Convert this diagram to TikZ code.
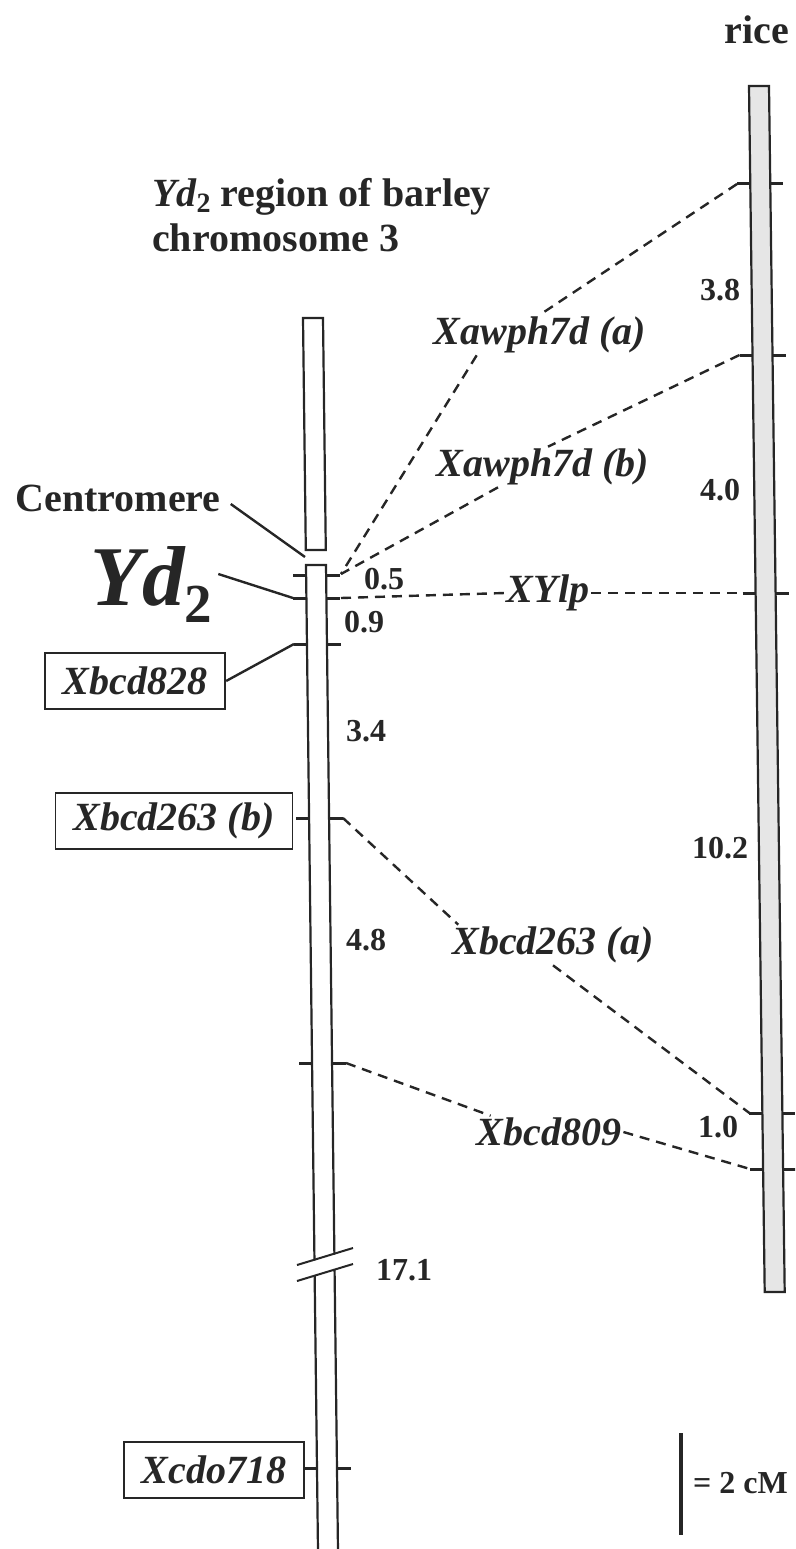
\documentclass[tikz,border=0pt]{standalone}
\usepackage{fontspec}
\setmainfont{Liberation Serif}
\usetikzlibrary{calc,positioning}
\definecolor{mapInk}{HTML}{262626}
\definecolor{riceFill}{HTML}{E6E6E6}

\tikzset{
  lbl/.style={font=\fontsize{40}{44}\selectfont\bfseries\itshape,text=mapInk,inner sep=2pt},
  dist/.style={font=\fontsize{32}{36}\selectfont\bfseries,text=mapInk,inner sep=0pt},
  heading/.style={font=\fontsize{40}{39}\selectfont\bfseries,text=mapInk,inner sep=0pt},
  markbox/.style={lbl,draw=mapInk,line width=1.8pt,minimum height=56pt,inner xsep=18pt,fill=white},
  tick/.style={mapInk,line width=3pt},
  link/.style={mapInk,line width=2.4pt,dash pattern=on 10pt off 7pt},
  lead/.style={mapInk,line width=2.4pt},
  chrom/.style={draw=mapInk,line width=2.2pt}
}

\begin{document}
\begin{tikzpicture}[x=1pt,y=-1pt]
\useasboundingbox (0,0) rectangle (795,1549);
\clip (0,0) rectangle (795,1549);

% headings
\node[heading] (rice) at (757,30) {rice};
\node[heading,anchor=north west,align=left] (title) at (152,178)
  {\itshape Yd\raisebox{-0.15em}{\upshape\fontsize{28}{28}\selectfont 2} \upshape region of barley\\[6pt]chromosome 3};

% barley chromosome 3 (two pieces, centromere gap)
\draw[chrom,fill=white] (303,318) -- (323,318) -- (325.8,550) -- (305.8,550) -- cycle;
\draw[chrom,fill=white] (306,565) -- (326,565) -- (338.1,1560) -- (318.1,1560) -- cycle;
% break
\fill[white] (300,1265) -- (350,1250) -- (350,1265) -- (300,1280) -- cycle;
\draw[mapInk,line width=2pt] (297,1265) -- (353,1248) (297,1281) -- (353,1264);

% rice chromosome
\draw[chrom,fill=riceFill] (749,86) -- (769,86) -- (784.7,1292) -- (764.7,1292) -- cycle;

% marker ticks
\foreach \y/\xl in {575/306.1,598/306.4,644/307.0,818/309.1,1063/312.1,1468/317.0}
  \draw[tick] (\xl-13,\y) -- (\xl,\y) (\xl+20,\y) -- (\xl+34,\y);
\foreach \y/\xl in {184/750.3,355/752.5,593/755.6,1113/762.4,1169/763.1}
  \draw[tick] (\xl-13,\y) -- (\xl,\y) (\xl+20,\y) -- (\xl+33,\y);

\coordinate (b05) at (341,574);
\coordinate (byd) at (341,598);
\coordinate (b263) at (343,818);
\coordinate (b809) at (346,1063);
\coordinate (r1) at (737,184);
\coordinate (r2) at (739.5,355);
\coordinate (r3) at (742.6,593);
\coordinate (r4) at (749.4,1113);
\coordinate (r5) at (750.1,1169);
\coordinate (lcen) at (305,557);
\coordinate (lyd) at (293,598);
\coordinate (l828) at (294,644);

% shared markers
\node[lbl] (xawa) at (540,335) {Xawph7d (a)};
\node[lbl] (xawb) at (543,467) {Xawph7d (b)};
\node[lbl] (xylp) at (548,593) {XYlp};
\node[lbl] (x263a) at (553,945) {Xbcd263 (a)};
\node[lbl] (x809) at (549,1132) {Xbcd809};

\draw[link] (r1) -- (xawa.north);
\draw[link] ([xshift=45pt]xawa.south west) -- (b05);
\draw[link] (r2) -- ([xshift=5pt]xawb.north);
\draw[link] ([xshift=-45pt]xawb.south) -- (b05);
\draw[link] (byd) -- (xylp.west);
\draw[link] (xylp.east) -- (r3);
\draw[link] (b263) -- ([xshift=8pt]x263a.north west);
\draw[link] (x263a.south) -- (r4);
\draw[link] (b809) -- ([xshift=16pt]x809.north west);
\draw[link] (x809.east) -- (r5);

% barley-only markers
\node[heading] (cen) at (118,498) {Centromere};
\draw[lead] ([xshift=10pt,yshift=-6pt]cen.east) -- (lcen);
\node[anchor=base west,inner sep=0pt,text=mapInk,font=\fontsize{85}{90}\selectfont\bfseries\itshape] (yd) at (90,605)
  {Yd\raisebox{-0.2em}{\upshape\fontsize{55}{55}\selectfont 2}};
\draw[lead] ([xshift=6pt,yshift=10pt]yd.east) -- (lyd);
\node[markbox] (x828) at (135,681) {Xbcd828};
\draw[lead] (x828.east) -- (l828);
\node[markbox] (x263b) at (174,821) {Xbcd263 (b)};
\node[markbox] (xcdo) at (214,1470) {Xcdo718};

% distances
\node[dist] (d05) at (384,579) {0.5};
\node[dist] (d09) at (364,622) {0.9};
\node[dist] (d34) at (366,731) {3.4};
\node[dist] (d48) at (366,940) {4.8};
\node[dist] (d171) at (404,1270) {17.1};
\node[dist] (d38) at (720,290) {3.8};
\node[dist] (d40) at (720,490) {4.0};
\node[dist] (d102) at (720,848) {10.2};
\node[dist] (d10) at (718,1127) {1.0};

% scale
\draw[mapInk,line width=4pt] (681,1433) -- (681,1535);
\node[dist,anchor=west] (scl) at (693,1483) {= 2 cM};
\end{tikzpicture}
\end{document}
